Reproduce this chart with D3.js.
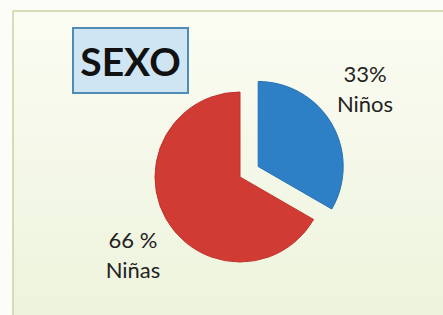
<!DOCTYPE html>
<html><head><meta charset="utf-8">
<script src="https://cdn.jsdelivr.net/npm/d3@7/dist/d3.min.js"></script>
<style>html,body{margin:0;padding:0;background:#fcfdf7;overflow:hidden}</style>
</head><body>
<script>
const categories = ["Niños", "Niñas"];
const values = [33, 66];
const valueLabels = ["33%", "66 %"];
const title = "SEXO";

const W = 443, H = 315;
const svg = d3.select("body").append("svg").attr("width", W).attr("height", H);
const defs = svg.append("defs");
const g = defs.append("linearGradient").attr("id","bg").attr("x1",0).attr("y1",0).attr("x2",0).attr("y2",1);
g.append("stop").attr("offset","0%").attr("stop-color","#fbfcf3");
g.append("stop").attr("offset","100%").attr("stop-color","#edf3dc");

svg.append("rect").attr("width",W).attr("height",H).attr("fill","#fcfdf8");
svg.append("rect").attr("x",13).attr("y",11).attr("width",W).attr("height",H)
  .attr("fill","url(#bg)").attr("stroke","#c9d39c").attr("stroke-width",1.5);

// title box
svg.append("rect").attr("x",73).attr("y",28).attr("width",115).attr("height",65)
  .attr("fill","#cfe5f4").attr("stroke","#4f8db6").attr("stroke-width",2);
svg.append("text").attr("x",130.5).attr("y",76).attr("text-anchor","middle")
  .attr("font-family","Lato").attr("font-weight","bold").attr("font-size",39)
  .attr("fill","#111").text(title);

const colors = d3.scaleOrdinal().domain(categories).range(["#2d7fc6","#d03b34"]);
const pie = d3.pie().sort(null)(values);
const r = 85;
const arc = d3.arc().innerRadius(0).outerRadius(r);
const cx = 240, cy = 177;
const explode = [21, 0];
const pg = svg.append("g").attr("transform",`translate(${cx},${cy})`);
pg.selectAll("path").data(pie).join("path")
  .attr("transform",(d,i)=>{
    const a = (d.startAngle+d.endAngle)/2;
    return `translate(${Math.sin(a)*explode[i]},${-Math.cos(a)*explode[i]})`;
  })
  .attr("d",arc)
  .attr("fill",(d,i)=>colors(categories[i]))
  .attr("stroke",(d,i)=>i===0?"#2671b3":"#c2332d").attr("stroke-width",1);

const labelPos = [[365,82],[133,248]];
categories.forEach((c,i)=>{
  const t = svg.append("text").attr("text-anchor","middle")
    .attr("font-family","Lato").attr("font-size",22).attr("fill","#222");
  t.append("tspan").attr("x",labelPos[i][0]).attr("y",labelPos[i][1]).text(valueLabels[i]);
  t.append("tspan").attr("x",labelPos[i][0]).attr("y",labelPos[i][1]+30).text(c);
});
</script>
</body></html>
